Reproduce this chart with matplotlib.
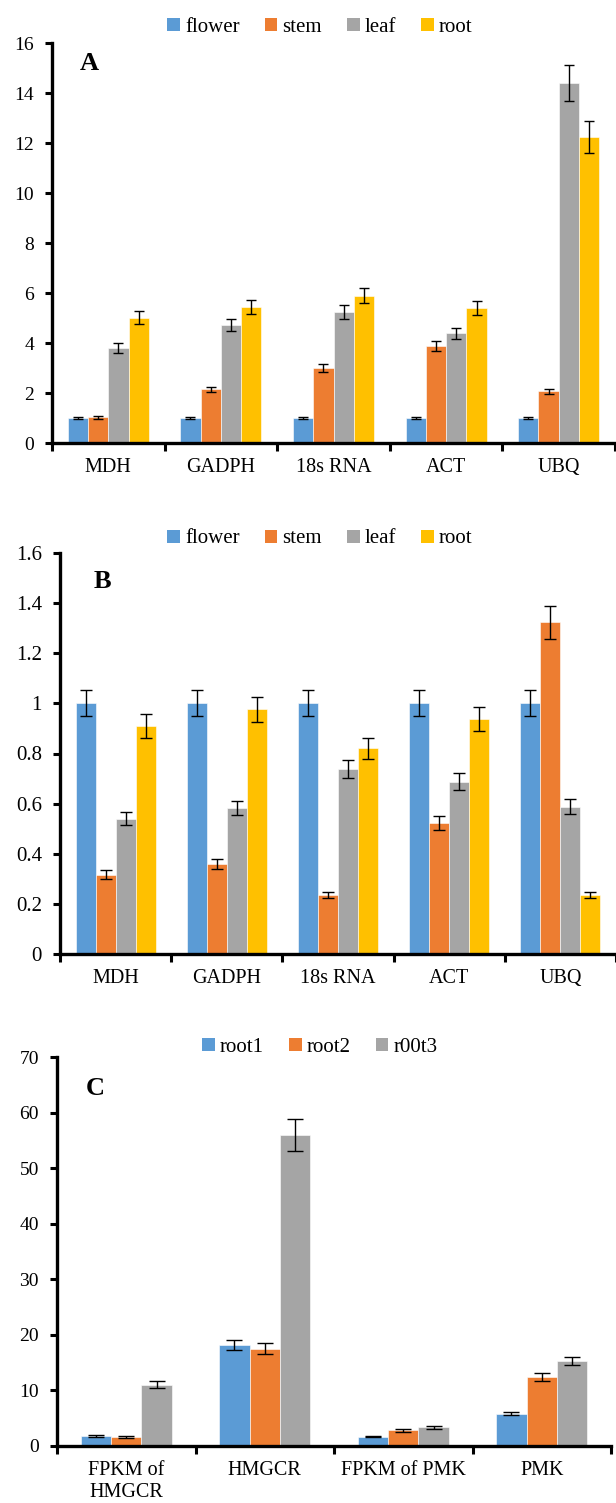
import numpy as np
from matplotlib import pyplot as plt
from matplotlib.patches import Patch

plt.rcParams['font.family'] = ['Liberation Serif', 'DejaVu Serif']

# 颜色 (Excel 默认配色)
colors = ['#5B9BD5', '#ED7D31', '#A5A5A5', '#FFC000']

# ---- A ----
genes = ['MDH', 'GADPH', '18s RNA', 'ACT', 'UBQ']
tissues = ['flower', 'stem', 'leaf', 'root']
a_flower = [1.0, 1.0, 1.0, 1.0, 1.0]
a_stem = [1.03, 2.15, 3.0, 3.88, 2.08]
a_leaf = [3.8, 4.72, 5.25, 4.4, 14.42]
a_root = [5.02, 5.45, 5.9, 5.42, 12.24]
a_flower_err = [0.05, 0.05, 0.05, 0.05, 0.05]
a_stem_err = [0.06, 0.1, 0.15, 0.2, 0.1]
a_leaf_err = [0.2, 0.25, 0.27, 0.22, 0.72]
a_root_err = [0.25, 0.28, 0.3, 0.28, 0.63]

# ---- B ----
b_flower = [1.0, 1.0, 1.0, 1.0, 1.0]
b_stem = [0.316, 0.359, 0.235, 0.524, 1.324]
b_leaf = [0.54, 0.582, 0.739, 0.688, 0.588]
b_root = [0.911, 0.976, 0.821, 0.937, 0.235]
b_flower_err = [0.052, 0.052, 0.052, 0.052, 0.052]
b_stem_err = [0.018, 0.02, 0.013, 0.028, 0.066]
b_leaf_err = [0.027, 0.029, 0.037, 0.035, 0.03]
b_root_err = [0.048, 0.051, 0.041, 0.048, 0.013]

# ---- C ----
c_genes = ['FPKM of\nHMGCR', 'HMGCR', 'FPKM of PMK', 'PMK']
samples = ['root1', 'root2', 'r00t3']
c_root1 = [1.8, 18.1, 1.7, 5.8]
c_root2 = [1.6, 17.5, 2.8, 12.4]
c_root3 = [11.0, 56.0, 3.35, 15.3]
c_root1_err = [0.12, 0.9, 0.12, 0.3]
c_root2_err = [0.12, 0.95, 0.2, 0.7]
c_root3_err = [0.65, 2.9, 0.25, 0.8]

W, H = 616, 1503
fig = plt.figure(figsize=(W / 100, H / 100), dpi=100)


def px_axes(left, right, top, bottom):
    return fig.add_axes([left / W, 1 - bottom / H, (right - left) / W, (bottom - top) / H])


def draw(ax, cats, series, errs, names, group, ymax, ystep, yfmt, capsize, letter, letter_xy, leg_y, tick_fs):
    n = len(series)
    x = np.arange(len(cats)) + 0.5
    w = group / n
    for i in range(n):
        pos = x - group / 2 + w * (i + 0.5)
        ax.bar(pos, series[i], w, color=colors[i], edgecolor='white', linewidth=0.4, zorder=2)
        ax.errorbar(pos, series[i], yerr=errs[i], fmt='none', ecolor='black',
                    elinewidth=1.0, capsize=capsize, capthick=1.0, zorder=3)
    ax.set_xlim(0, len(cats))
    ax.set_ylim(0, ymax)
    yt = np.arange(0, ymax + ystep / 2, ystep)
    ax.set_yticks(yt)
    ax.set_yticklabels([yfmt(v) for v in yt], fontsize=tick_fs)
    ax.set_xticks(np.arange(len(cats) + 1))
    ax.set_xticklabels([])
    ax.set_xticks(x, minor=True)
    ax.set_xticklabels(cats, minor=True, fontsize=14.5)
    ax.tick_params(axis='x', which='major', direction='out', length=6, width=2.2)
    ax.tick_params(axis='x', which='minor', length=0, pad=11)
    ax.tick_params(axis='y', direction='out', length=5, width=2.2, pad=8)
    for s in ['top', 'right']:
        ax.spines[s].set_visible(False)
    for s in ['left', 'bottom']:
        ax.spines[s].set_linewidth(2.4)
    ax.text(letter_xy[0], letter_xy[1], letter, transform=ax.transAxes,
            fontsize=19, fontweight='bold', ha='center', va='center')
    handles = [Patch(facecolor=colors[i], label=names[i]) for i in range(n)]
    ax.legend(handles=handles, loc='center', bbox_to_anchor=(320 / W, 1 - leg_y / H),
              bbox_transform=fig.transFigure, ncol=n, frameon=False, fontsize=15,
              handlelength=0.6, handleheight=0.6, handletextpad=0.25, columnspacing=1.2)


def fmt_int(v):
    return '{:d}'.format(int(round(v)))


def fmt_b(v):
    s = '{:.1f}'.format(v)
    return s[:-2] if s.endswith('.0') else s


ax1 = px_axes(52, 615, 43, 443)
draw(ax1, genes, [a_flower, a_stem, a_leaf, a_root],
     [a_flower_err, a_stem_err, a_leaf_err, a_root_err], tissues,
     0.72, 16, 2, fmt_int, 3.6, 'A', (0.067, 0.95), 27, 14)

ax2 = px_axes(60, 616, 553, 954)
draw(ax2, genes, [b_flower, b_stem, b_leaf, b_root],
     [b_flower_err, b_stem_err, b_leaf_err, b_root_err], tissues,
     0.72, 1.6, 0.2, fmt_b, 4, 'B', (0.076, 0.928), 539, 15)

ax3 = px_axes(57, 611, 1057, 1446)
draw(ax3, c_genes, [c_root1, c_root2, c_root3],
     [c_root1_err, c_root2_err, c_root3_err], samples,
     0.66, 70, 10, fmt_int, 5.5, 'C', (0.069, 0.92), 1047, 14)

plt.savefig('out.png', dpi=100)
